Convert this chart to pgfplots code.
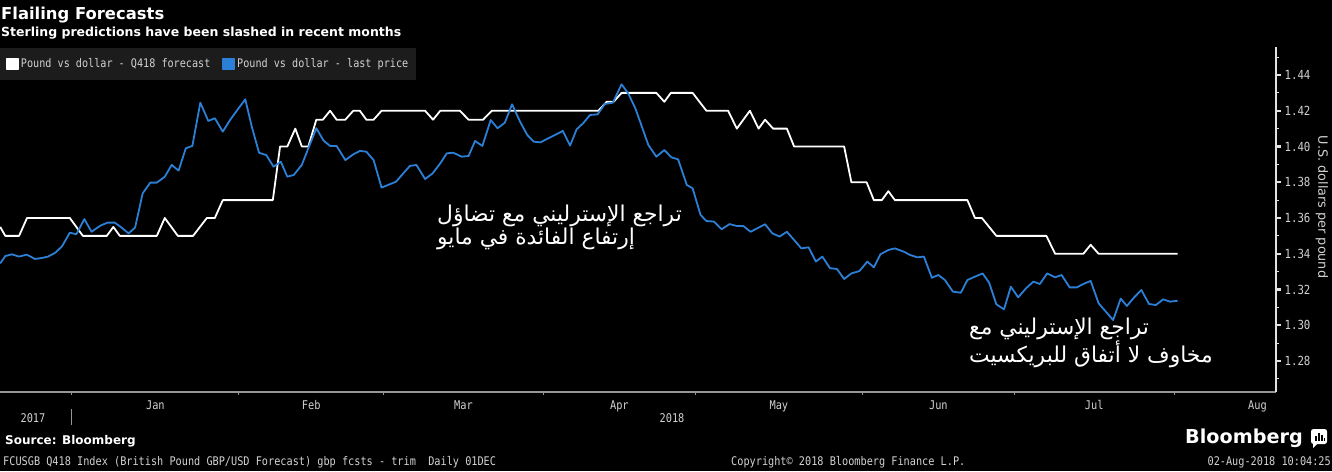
\documentclass[border=0pt]{standalone}
\usepackage{pgfplots}
\pgfplotsset{compat=1.18}
\usepackage{pgfplotstable}
\usepackage{fontspec}
\setmainfont{DejaVu Sans}
\newfontfamily\bbfont[FakeStretch=0.86]{DejaVu Sans Mono}
\newfontfamily\arabicfont[Script=Arabic]{DejaVu Sans}
\TeXXeTstate=1
\definecolor{bblue}{RGB}{44,127,214}
\definecolor{legbg}{RGB}{28,28,28}
\definecolor{lbl}{RGB}{210,210,210}
\definecolor{axgray}{RGB}{150,150,150}
\definecolor{axwhite}{RGB}{225,225,225}

% x = business days since 1 Jan 2018
\pgfplotstableread{
t v
-9.9 1.355
-9.2 1.35
-7.3 1.35
-6.2 1.36
-0.3 1.36
1.5 1.35
4.8 1.35
5.7 1.355
6.6 1.35
11.7 1.35
12.8 1.36
14.6 1.35
16.7 1.35
18.6 1.36
19.7 1.36
20.8 1.37
27.7 1.37
28.7 1.40
29.7 1.40
30.8 1.41
31.7 1.40
32.6 1.40
33.7 1.415
34.6 1.415
35.6 1.42
36.5 1.415
37.7 1.415
38.8 1.42
39.7 1.42
40.6 1.415
41.6 1.415
42.7 1.42
48.7 1.42
49.8 1.415
50.8 1.42
53.5 1.42
54.7 1.415
56.7 1.415
57.9 1.42
72.6 1.42
73.75 1.425
74.7 1.425
75.8 1.43
80.6 1.43
81.7 1.425
82.6 1.43
85.6 1.43
87.5 1.42
90.5 1.42
91.7 1.41
93.5 1.42
94.7 1.41
95.6 1.415
96.7 1.41
98.6 1.41
99.6 1.40
106.5 1.40
107.5 1.38
109.6 1.38
110.6 1.37
111.7 1.37
112.6 1.375
113.5 1.37
123.5 1.37
124.55 1.36
125.5 1.36
127.5 1.35
134.4 1.35
135.6 1.34
139.5 1.34
140.5 1.345
141.6 1.34
152.5 1.34
}\forecast

\pgfplotstableread{
t v
-9.9 1.3346
-9.2 1.3387
-8.3 1.3397
-7.3 1.3384
-6.25 1.3395
-5.1 1.3371
-4.2 1.3376
-3.3 1.3384
-2.3 1.3406
-1.4 1.3440
-0.3 1.3518
0.6 1.3509
1.7 1.3594
2.7 1.3523
3.9 1.3557
4.9 1.3574
5.9 1.3574
6.85 1.3546
7.8 1.3514
8.7 1.3546
9.75 1.3738
10.8 1.3798
11.7 1.3798
12.8 1.3831
13.75 1.3897
14.7 1.3865
15.7 1.3990
16.6 1.4003
17.7 1.4245
18.8 1.4143
19.7 1.4158
20.8 1.4083
21.8 1.4148
22.8 1.4204
23.9 1.4264
24.8 1.4111
25.8 1.3965
26.8 1.3952
27.8 1.3887
28.8 1.3915
29.7 1.3831
30.6 1.3841
31.7 1.3897
32.6 1.3990
33.7 1.4102
34.7 1.4033
35.6 1.4003
36.5 1.4003
37.7 1.3924
38.8 1.3956
39.7 1.3975
40.6 1.3971
41.6 1.3924
42.7 1.3770
43.6 1.3785
44.7 1.3803
45.7 1.3850
46.6 1.3891
47.5 1.3897
48.7 1.3818
49.75 1.3850
50.8 1.3906
51.7 1.3962
52.6 1.3965
53.75 1.3943
54.7 1.3947
55.6 1.4031
56.6 1.4003
57.75 1.4148
58.7 1.4102
59.7 1.4133
60.7 1.4236
61.8 1.4139
62.8 1.4064
63.7 1.4027
64.6 1.4023
65.7 1.4046
66.6 1.4064
67.7 1.4087
68.7 1.4005
69.6 1.4096
70.5 1.4130
71.45 1.4176
72.5 1.4180
73.5 1.4238
74.6 1.4245
75.8 1.4348
76.7 1.4298
77.7 1.4214
78.6 1.4111
79.5 1.4008
80.6 1.3943
81.7 1.3980
82.7 1.3939
83.6 1.3928
84.8 1.3785
85.6 1.3766
86.7 1.3617
87.5 1.3583
88.55 1.3580
89.6 1.3537
90.7 1.3566
91.7 1.3555
92.6 1.3555
93.6 1.3523
94.5 1.3542
95.6 1.3565
96.6 1.3514
97.6 1.3496
98.6 1.3523
99.6 1.3477
100.6 1.3430
101.6 1.3436
102.6 1.3356
103.5 1.3384
104.55 1.3319
105.5 1.3315
106.5 1.3259
107.5 1.3290
108.6 1.3303
109.7 1.3356
110.6 1.3324
111.5 1.3397
112.6 1.3421
113.5 1.3430
114.7 1.3412
115.6 1.3393
116.6 1.3380
117.5 1.3384
118.6 1.3266
119.5 1.3281
120.4 1.3253
121.5 1.3188
122.6 1.3182
123.5 1.3253
124.55 1.3272
125.6 1.3290
126.5 1.3238
127.5 1.3117
128.55 1.3089
129.5 1.3216
130.5 1.3156
131.6 1.3207
132.6 1.3244
133.5 1.3231
134.5 1.3290
135.6 1.3268
136.5 1.3281
137.6 1.3212
138.6 1.3212
139.5 1.3231
140.5 1.3248
141.6 1.3123
142.6 1.3076
143.6 1.3029
144.65 1.3149
145.5 1.3108
146.5 1.3156
147.5 1.3197
148.55 1.3119
149.5 1.3113
150.5 1.3145
151.45 1.3132
152.5 1.3137
}\lastprice

\begin{document}
\begin{tikzpicture}[x=1pt,y=1pt]
\useasboundingbox (0,0) rectangle (1332,471);
\fill[black] (0,0) rectangle (1332,471);
\begin{axis}[
  at={(0pt,79pt)}, anchor=south west,
  width=1276pt, height=345pt, scale only axis,
  xmin=-9.93, xmax=166.07, ymin=1.26266, ymax=1.45566,
  axis x line*=bottom, axis y line*=right,
  x axis line style={-, draw=axgray, line width=1.3pt},
  y axis line style={-, draw=axwhite, line width=1.3pt},
  xtick={11.5,33,54,75.5,97.5,119.5,141,163.5},
  xticklabels={Jan,Feb,Mar,Apr,May,Jun,Jul,Aug},
  minor xtick={0,23,43,65,86,109,130,152},
  ytick={1.28,1.30,1.32,1.34,1.36,1.38,1.40,1.42,1.44},
  minor ytick={1.27,1.29,1.31,1.33,1.35,1.37,1.39,1.41,1.43,1.45},
  tick align=outside,
  major tick length=5pt, minor tick length=3pt,
  major x tick style={draw=none},
  minor x tick style={draw=axgray, line width=1pt},
  major y tick style={draw=axwhite, line width=2.2pt},
  minor y tick style={draw=axwhite, line width=0.8pt},
  xticklabel style={font=\bbfont\fontsize{12}{14}\selectfont, text=lbl},
  yticklabel style={font=\bbfont\fontsize{12.5}{14}\selectfont, text=lbl,
    /pgf/number format/fixed, /pgf/number format/fixed zerofill,
    /pgf/number format/precision=2, /pgf/number format/assume math mode=true},
  ylabel={U.S. dollars per pound},
  every axis y label/.style={at={(rel axis cs:1,0.536)}, xshift=46pt, rotate=-90, anchor=center,
    font=\fontsize{12.8}{14}\selectfont, text=lbl},
  legend columns=2,
  legend style={at={(rel axis cs:0,1)}, anchor=north west, yshift=-1pt,
    fill=legbg, draw=none, text=lbl,
    font=\bbfont\fontsize{11.8}{13}\selectfont,
    inner xsep=6pt, inner ysep=8.5pt,
    /tikz/every even column/.append style={column sep=10pt}},
  legend image code/.code={\fill[#1] (0pt,-5.5pt) rectangle (11pt,5.5pt);},
]
\addplot[color=white, line width=1.8pt, line join=round] table[x=t,y=v]{\forecast};
\addlegendentry{Pound vs dollar - Q418 forecast}
\addplot[color=bblue, line width=1.8pt, line join=round] table[x=t,y=v]{\lastprice};
\addlegendentry{Pound vs dollar - last price}
\end{axis}

% titles
\node[anchor=base west, inner sep=0, text=white, font=\bfseries\fontsize{16.4}{18}\selectfont] at (1,451) {Flailing Forecasts};
\node[anchor=base west, inner sep=0, text=white, font=\bfseries\fontsize{12.5}{14}\selectfont] at (1,434) {Sterling predictions have been slashed in recent months};

% year labels
\node[text=lbl, font=\bbfont\fontsize{12}{14}\selectfont] at (33,53) {2017};
\node[text=lbl, font=\bbfont\fontsize{12}{14}\selectfont] at (672,53) {2018};
\draw[axgray, line width=1pt] (71,46) -- (71,62);

% annotations
\node[anchor=base west, inner sep=0, text=white, font=\arabicfont\fontsize{21.8}{24}\selectfont] at (437,249) {\beginR تراجع الإسترليني مع تضاؤل\endR};
\node[anchor=base west, inner sep=0, text=white, font=\arabicfont\fontsize{21.8}{24}\selectfont] at (437,226) {\beginR إرتفاع الفائدة في مايو\endR};
\node[anchor=base west, inner sep=0, text=white, font=\arabicfont\fontsize{21.8}{24}\selectfont] at (969,136) {\beginR تراجع الإسترليني مع\endR};
\node[anchor=base west, inner sep=0, text=white, font=\arabicfont\fontsize{21.8}{24}\selectfont] at (969,108) {\beginR مخاوف لا أتفاق للبريكسيت\endR};

% footer
\node[anchor=base west, inner sep=0, text=white, font=\bfseries\fontsize{12}{14}\selectfont] at (5,26.5) {Source: Bloomberg};
\node[anchor=base west, inner sep=0, text=lbl, font=\bbfont\fontsize{11.9}{13}\selectfont] at (3,5.5) {FCUSGB Q418 Index (British Pound GBP/USD Forecast) gbp fcsts - trim\ \ Daily 01DEC};
\node[anchor=base west, inner sep=0, text=lbl, font=\bbfont\fontsize{11.9}{13}\selectfont] at (731,5.5) {Copyright© 2018 Bloomberg Finance L.P.};
\node[anchor=base east, inner sep=0, text=lbl, font=\bbfont\fontsize{11.9}{13}\selectfont] at (1331,5.5) {02-Aug-2018 10:04:25};
\node[anchor=base west, inner sep=0, text=white, font=\bfseries\fontsize{19.2}{22}\selectfont] at (1185,28) {Bloomberg};
\fill[white, rounded corners=2.5pt] (1311,27) rectangle (1327,42);
\fill[white] (1313,29) -- (1313,23) -- (1319,29) -- cycle;
\fill[black] (1315,30) rectangle (1316.6,35);
\fill[black] (1318,30) rectangle (1319.6,38);
\fill[black] (1321,30) rectangle (1322.6,36);
\fill[black] (1324,30) rectangle (1325.2,33);
\end{tikzpicture}
\end{document}
